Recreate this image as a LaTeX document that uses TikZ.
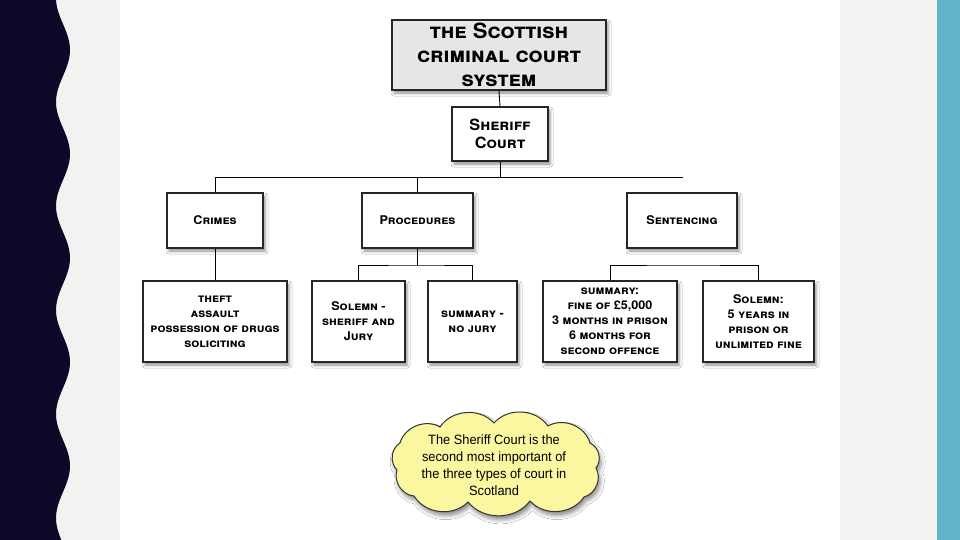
\documentclass[tikz,border=0pt]{standalone}
\usepackage{fontspec}
\usetikzlibrary{positioning,shadows.blur}
\newfontfamily\cpfont{TeX Gyre Heros}[FakeStretch=1.05]
\newfontfamily\notefont{Liberation Sans}[FakeStretch=0.95]
\definecolor{slidegrey}{RGB}{242,242,240}
\definecolor{navy}{RGB}{11,8,40}
\definecolor{teal}{RGB}{99,179,200}
\definecolor{titlegrey}{RGB}{230,230,230}
\definecolor{noteyellow}{RGB}{250,247,160}

\begin{document}
\begin{tikzpicture}[x=1pt, y=-1pt,
    box/.style={draw=black!85, line width=1.2pt, fill=white, align=center, inner sep=2pt,
      font=\cpfont\bfseries\scshape\fontsize{12}{15}\selectfont,
      blur shadow={shadow xshift=2pt, shadow yshift=-3pt, shadow blur radius=3pt, shadow opacity=45}},
    titlebox/.style={box, line width=2.2pt, fill=titlegrey,
      font=\cpfont\bfseries\scshape\fontsize{21}{24}\selectfont},
    link/.style={line width=0.9pt, black},
    cloudarc/.style={bend left=52}]
    % slide background
    \useasboundingbox (0,0) rectangle (960,540);
    \fill[slidegrey] (0,0) rectangle (960,540);
    \fill[white] (120,0) rectangle (840,540);
    \fill[navy] (0,0) -- plot[domain=0:540, samples=200] ({63+7*sin((\x-24)*3.4615)},\x) -- (0,540) -- cycle;
    \fill[teal] (937,0) rectangle (960,540);
    % chart
    \node[titlebox, minimum width=214pt, minimum height=70pt] (title) at (499,55) {the Scottish\\criminal court\\system};
    \node[box, minimum width=96pt, minimum height=54pt, font=\cpfont\bfseries\scshape\fontsize{15.5}{18}\selectfont] (sheriff) at (500,134) {Sheriff\\Court};
    \node[box, minimum width=96pt, minimum height=55pt] (crimes) at (215,220.5) {Crimes};
    \node[box, minimum width=111pt, minimum height=55pt] (procs) at (417.5,220.5) {Procedures};
    \node[box, minimum width=110pt, minimum height=55pt] (sentencing) at (682,220.5) {Sentencing};
    \node[box, minimum width=144pt, minimum height=81pt] (offences) at (215,321.5) {theft\\assault\\possession of drugs\\soliciting};
    \node[box, minimum width=93pt, minimum height=81pt] (solemnp) at (358.5,321.5) {Solemn -\\sheriff and\\Jury};
    \node[box, minimum width=89pt, minimum height=81pt] (summaryp) at (472.5,321.5) {summary -\\no jury};
    \node[box, minimum width=134pt, minimum height=81pt] (summarys) at (610,321.5) {summary:\\fine of £5,000\\3 months in prison\\6 months for\\second offence};
    \node[box, minimum width=111pt, minimum height=81pt] (solemns) at (758.5,321.5) {Solemn:\\5 years in\\prison or\\unlimited fine};
    \coordinate (topL) at (215,177);
    \coordinate (topR) at (683,177);
    \coordinate (procbus) at (417.5,265);
    \coordinate (sentbus) at (682,265);
    \draw[link] (title.south) -- (sheriff.north);
    \draw[link] (sheriff.south) -- (sheriff.south |- topL);
    \draw[link] (crimes.north) -- (topL) -- (topR);
    \draw[link] (procs.north) -- (procs.north |- topL);
    \draw[link] (crimes.south) -- (offences.north);
    \draw[link] (procs.south) -- (procbus);
    \draw[link] (solemnp.north) |- (procbus) -| (summaryp.north);
    \draw[link] (summarys.north) |- (sentbus) -| (solemns.north);
    % note cloud
    \filldraw[draw=black!80, line width=1pt, fill=noteyellow,
      blur shadow={shadow xshift=2pt, shadow yshift=-4pt, shadow blur radius=4pt, shadow opacity=45}]
      (400,443) to[cloudarc] (440,427) to[cloudarc] (494,423) to[cloudarc] (548,426)
      to[cloudarc] (590,443) to[cloudarc] (596,468) to[cloudarc] (584,497)
      to[cloudarc] (530,501) to[cloudarc] (468,502) to[cloudarc] (414,496)
      to[cloudarc] (397,470) to[cloudarc] (400,443) -- cycle;
    \node[align=center, font=\notefont\fontsize{13.5}{17}\selectfont] (notetext) at (494,465)
      {The Sheriff Court is the\\second most important of\\the three types of court in\\Scotland};
\end{tikzpicture}
\end{document}
